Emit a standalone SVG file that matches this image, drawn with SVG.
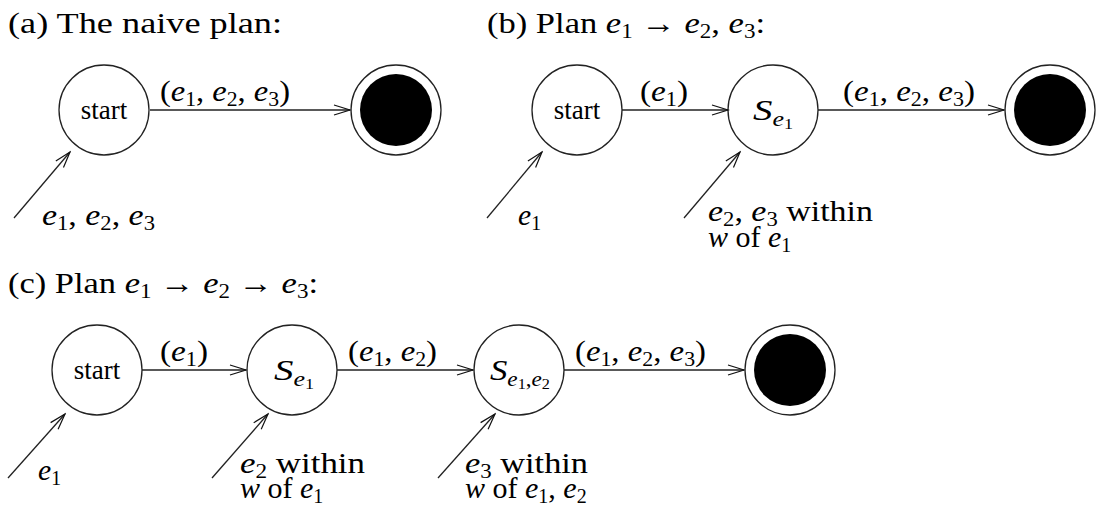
<svg xmlns="http://www.w3.org/2000/svg" width="1096" height="507" viewBox="0 0 1096 507">
<defs>
<marker id="ah" markerWidth="20" markerHeight="14" refX="18" refY="7" orient="auto" markerUnits="userSpaceOnUse">
<polyline points="2,2 18,7 2,12" fill="none" stroke="#111" stroke-width="1.2"/>
</marker>
</defs>
<style>
.st{fill:#fff;stroke:#222;stroke-width:1.3}
.fi{fill:#000}
.ed{stroke:#222;stroke-width:1.3;fill:none;marker-end:url(#ah)}
.m{font-family:"Liberation Serif","DejaVu Serif",serif;font-size:30px;fill:#000}
.i{font-style:italic}
.s{font-size:20px}
.ss{font-size:14px}
.nl{font-family:"Liberation Serif","DejaVu Serif",serif;font-size:27px;fill:#000}
</style>
<rect width="1096" height="507" fill="#fff"/>

<g id="titles">
<text class="m" x="8" y="33" textLength="274" lengthAdjust="spacingAndGlyphs">(a) The naive plan:</text>
<text class="m" x="487" y="33" textLength="278" lengthAdjust="spacingAndGlyphs">(b) Plan <tspan class="i">e</tspan><tspan class="s" dy="5">1</tspan><tspan dy="-5"> → </tspan><tspan class="i">e</tspan><tspan class="s" dy="5">2</tspan><tspan dy="-5">, </tspan><tspan class="i">e</tspan><tspan class="s" dy="5">3</tspan><tspan dy="-5">:</tspan></text>
<text class="m" x="8" y="293" textLength="310" lengthAdjust="spacingAndGlyphs">(c) Plan <tspan class="i">e</tspan><tspan class="s" dy="5">1</tspan><tspan dy="-5"> → </tspan><tspan class="i">e</tspan><tspan class="s" dy="5">2</tspan><tspan dy="-5"> → </tspan><tspan class="i">e</tspan><tspan class="s" dy="5">3</tspan><tspan dy="-5">:</tspan></text>
</g>

<g id="a-start"><circle class="st" cx="104" cy="110" r="45"/><text class="nl" x="104" y="119" text-anchor="middle">start</text></g>
<g id="a-final"><circle class="st" cx="396" cy="110" r="45"/><circle class="fi" cx="396" cy="110" r="36"/></g>

<g id="b-start"><circle class="st" cx="577" cy="110" r="45"/><text class="nl" x="577" y="119" text-anchor="middle">start</text></g>
<g id="b-se1"><circle class="st" cx="773" cy="110" r="45"/><text class="m" x="753" y="120" textLength="40" lengthAdjust="spacingAndGlyphs"><tspan class="i">S</tspan><tspan class="s i" dy="6">e</tspan><tspan class="ss" dy="3">1</tspan></text></g>
<g id="b-final"><circle class="st" cx="1050" cy="110" r="45"/><circle class="fi" cx="1050" cy="110" r="36"/></g>

<g id="c-start"><circle class="st" cx="97" cy="370" r="45"/><text class="nl" x="97" y="379" text-anchor="middle">start</text></g>
<g id="c-se1"><circle class="st" cx="292" cy="370" r="45"/><text class="m" x="274" y="380" textLength="40" lengthAdjust="spacingAndGlyphs"><tspan class="i">S</tspan><tspan class="s i" dy="6">e</tspan><tspan class="ss" dy="3">1</tspan></text></g>
<g id="c-se12"><circle class="st" cx="519" cy="370" r="45"/><text class="m" x="490" y="380" textLength="60" lengthAdjust="spacingAndGlyphs"><tspan class="i">S</tspan><tspan class="s i" dy="6">e</tspan><tspan class="ss" dy="3">1</tspan><tspan class="s" dy="-3">,</tspan><tspan class="s i">e</tspan><tspan class="ss" dy="3">2</tspan></text></g>
<g id="c-final"><circle class="st" cx="790" cy="370" r="45"/><circle class="fi" cx="790" cy="370" r="36"/></g>

<g id="connectors">
<line class="ed" x1="150" y1="110" x2="350" y2="110"/>
<line class="ed" x1="14" y1="218" x2="70" y2="152"/>
<line class="ed" x1="622" y1="110" x2="728" y2="110"/>
<line class="ed" x1="818" y1="110" x2="1004" y2="110"/>
<line class="ed" x1="487" y1="218" x2="542" y2="152"/>
<line class="ed" x1="684" y1="218" x2="740" y2="152"/>
<line class="ed" x1="142" y1="370" x2="246" y2="370"/>
<line class="ed" x1="337" y1="370" x2="473" y2="370"/>
<line class="ed" x1="564" y1="370" x2="744" y2="370"/>
<line class="ed" x1="8" y1="478" x2="65" y2="414"/>
<line class="ed" x1="212" y1="478" x2="268" y2="414"/>
<line class="ed" x1="438" y1="478" x2="495" y2="414"/>
</g>

<g id="labels">
<text class="m" x="160" y="101" textLength="130" lengthAdjust="spacingAndGlyphs">(<tspan class="i">e</tspan><tspan class="s" dy="5">1</tspan><tspan dy="-5">, </tspan><tspan class="i">e</tspan><tspan class="s" dy="5">2</tspan><tspan dy="-5">, </tspan><tspan class="i">e</tspan><tspan class="s" dy="5">3</tspan><tspan dy="-5">)</tspan></text>
<text class="m" x="42" y="225" textLength="113" lengthAdjust="spacingAndGlyphs"><tspan class="i">e</tspan><tspan class="s" dy="5">1</tspan><tspan dy="-5">, </tspan><tspan class="i">e</tspan><tspan class="s" dy="5">2</tspan><tspan dy="-5">, </tspan><tspan class="i">e</tspan><tspan class="s" dy="5">3</tspan></text>

<text class="m" x="640" y="101" textLength="48" lengthAdjust="spacingAndGlyphs">(<tspan class="i">e</tspan><tspan class="s" dy="5">1</tspan><tspan dy="-5">)</tspan></text>
<text class="m" x="843" y="101" textLength="132" lengthAdjust="spacingAndGlyphs">(<tspan class="i">e</tspan><tspan class="s" dy="5">1</tspan><tspan dy="-5">, </tspan><tspan class="i">e</tspan><tspan class="s" dy="5">2</tspan><tspan dy="-5">, </tspan><tspan class="i">e</tspan><tspan class="s" dy="5">3</tspan><tspan dy="-5">)</tspan></text>
<text class="m" x="518" y="225" textLength="23" lengthAdjust="spacingAndGlyphs"><tspan class="i">e</tspan><tspan class="s" dy="5">1</tspan></text>
<text class="m" x="708" y="221" textLength="165" lengthAdjust="spacingAndGlyphs"><tspan class="i">e</tspan><tspan class="s" dy="5">2</tspan><tspan dy="-5">, </tspan><tspan class="i">e</tspan><tspan class="s" dy="5">3</tspan><tspan dy="-5"> within</tspan></text>
<text class="m" x="708" y="247"><tspan class="i">w</tspan> of <tspan class="i">e</tspan><tspan class="s" dy="5">1</tspan></text>

<text class="m" x="160" y="361" textLength="48" lengthAdjust="spacingAndGlyphs">(<tspan class="i">e</tspan><tspan class="s" dy="5">1</tspan><tspan dy="-5">)</tspan></text>
<text class="m" x="348" y="361" textLength="89" lengthAdjust="spacingAndGlyphs">(<tspan class="i">e</tspan><tspan class="s" dy="5">1</tspan><tspan dy="-5">, </tspan><tspan class="i">e</tspan><tspan class="s" dy="5">2</tspan><tspan dy="-5">)</tspan></text>
<text class="m" x="575" y="361" textLength="131" lengthAdjust="spacingAndGlyphs">(<tspan class="i">e</tspan><tspan class="s" dy="5">1</tspan><tspan dy="-5">, </tspan><tspan class="i">e</tspan><tspan class="s" dy="5">2</tspan><tspan dy="-5">, </tspan><tspan class="i">e</tspan><tspan class="s" dy="5">3</tspan><tspan dy="-5">)</tspan></text>
<text class="m" x="38" y="480" textLength="23" lengthAdjust="spacingAndGlyphs"><tspan class="i">e</tspan><tspan class="s" dy="5">1</tspan></text>
<text class="m" x="240" y="473" textLength="125" lengthAdjust="spacingAndGlyphs"><tspan class="i">e</tspan><tspan class="s" dy="5">2</tspan><tspan dy="-5"> within</tspan></text>
<text class="m" x="240" y="498"><tspan class="i">w</tspan> of <tspan class="i">e</tspan><tspan class="s" dy="5">1</tspan></text>
<text class="m" x="465" y="473" textLength="123" lengthAdjust="spacingAndGlyphs"><tspan class="i">e</tspan><tspan class="s" dy="5">3</tspan><tspan dy="-5"> within</tspan></text>
<text class="m" x="465" y="498"><tspan class="i">w</tspan> of <tspan class="i">e</tspan><tspan class="s" dy="5">1</tspan><tspan dy="-5">, </tspan><tspan class="i">e</tspan><tspan class="s" dy="5">2</tspan></text>
</g>
</svg>
